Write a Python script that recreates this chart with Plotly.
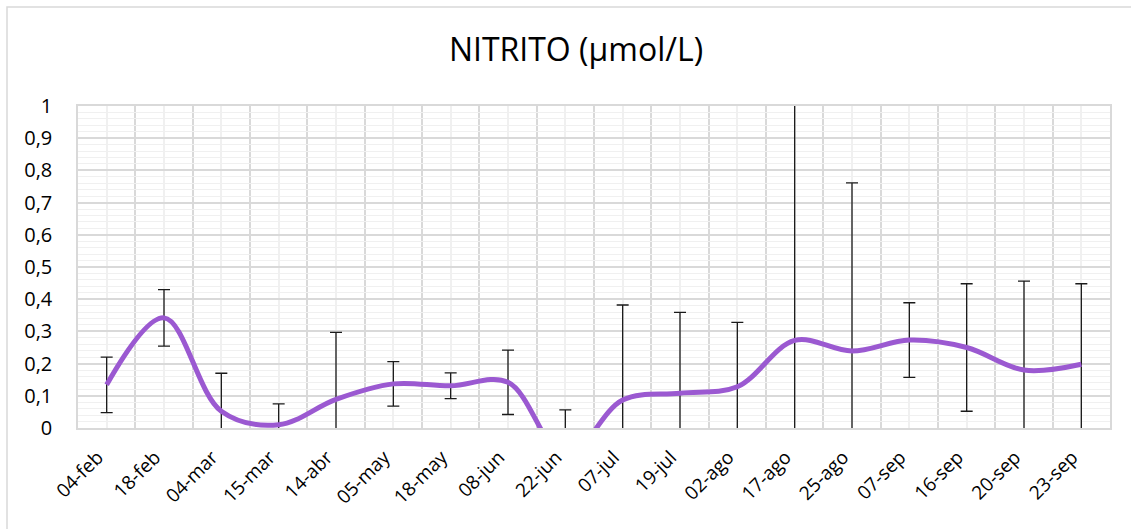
import plotly.graph_objects as go

# Fechas de muestreo y concentración media de nitrito (µmol/L) con su desviación
fechas = ["04-feb", "18-feb", "04-mar", "15-mar", "14-abr", "05-may", "18-may",
          "08-jun", "22-jun", "07-jul", "19-jul", "02-ago", "17-ago", "25-ago",
          "07-sep", "16-sep", "20-sep", "23-sep"]
nitrito = [0.134, 0.342, 0.052, 0.010, 0.089, 0.137, 0.131, 0.142, -0.090, 0.087,
           0.108, 0.128, 0.272, 0.239, 0.273, 0.250, 0.180, 0.198]
desviacion = [0.086, 0.088, 0.118, 0.065, 0.208, 0.069, 0.040, 0.100, 0.146, 0.295,
              0.251, 0.200, 0.900, 0.522, 0.116, 0.198, 0.276, 0.250]
y_ticks = [0, 0.1, 0.2, 0.3, 0.4, 0.5, 0.6, 0.7, 0.8, 0.9, 1]

FONT = "Open Sans"
idx = list(range(len(fechas)))

fig = go.Figure()
fig.add_trace(go.Scatter(
    x=idx, y=nitrito,
    mode="lines",
    line=dict(color="#9B59D1", width=5, shape="spline", smoothing=1.0),
    error_y=dict(type="data", array=desviacion, symmetric=True,
                 color="#1a1a1a", thickness=1.3, width=6),
    showlegend=False,
    hoverinfo="x+y",
))

# Marco exterior del gráfico
L, T, PW, PH = 78, 106, 1032, 322
def px_x(p):
    return (p - L) / PW
def px_y(p):
    return (T + PH - p) / PH
fig.add_shape(type="rect", xref="paper", yref="paper",
              x0=px_x(7), x1=px_x(1160), y0=px_y(7), y1=px_y(560),
              line=dict(color="#d9d9d9", width=1.5), fillcolor="rgba(0,0,0,0)",
              layer="below")

fig.update_layout(
    width=1131, height=529,
    margin=dict(l=L, r=1131 - L - PW, t=T, b=529 - T - PH),
    paper_bgcolor="white", plot_bgcolor="white",
    separators=",.",
    font=dict(family=FONT, color="#000000"),
    title=dict(text="NITRITO (µmol/L)", x=576 / 1131, xanchor="center",
               y=1 - 50 / 529, yanchor="middle",
               font=dict(family=FONT, size=32, color="#000000")),
)

fig.update_xaxes(
    range=[-0.5, len(fechas) - 0.5],
    tickmode="array", tickvals=idx, ticktext=fechas,
    tickangle=-45, tickfont=dict(family=FONT, size=19, color="#000000"),
    ticks="", ticklabelstandoff=9, ticklabelshift=-9,
    showgrid=True, gridcolor="#f0f0f0", gridwidth=1.5,
    minor=dict(tickmode="array", tickvals=[i - 0.5 for i in idx] + [len(fechas) - 0.5],
               showgrid=True, gridcolor="#d9d9d9", gridwidth=1.5, ticks=""),
    showline=True, linecolor="#d9d9d9", linewidth=1.5, mirror=True,
    zeroline=False, fixedrange=True,
)
fig.update_yaxes(
    range=[0, 1],
    tickmode="array", tickvals=y_ticks,
    tickfont=dict(family=FONT, size=20, color="#000000"),
    ticks="", ticklabelstandoff=20,
    showgrid=True, gridcolor="#d9d9d9", gridwidth=1.5,
    minor=dict(dtick=0.02, tick0=0, showgrid=True, gridcolor="#f0f0f0", gridwidth=1.2),
    showline=True, linecolor="#d9d9d9", linewidth=1.5, mirror=True,
    zeroline=False, fixedrange=True,
)

fig.write_html("out.html")
